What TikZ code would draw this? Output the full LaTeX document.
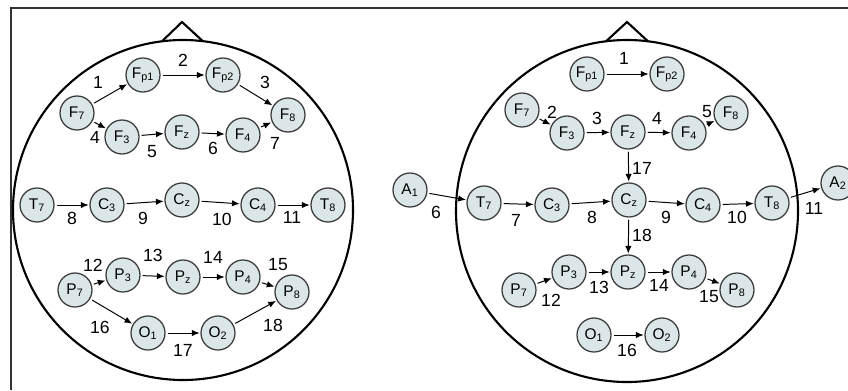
\documentclass[tikz,border=0pt]{standalone}
\usepackage{fontspec}
\setmainfont{Liberation Sans}
\usepackage{tikz}
\usetikzlibrary{arrows.meta}
\definecolor{elfill}{HTML}{DAE6E7}
\definecolor{eldraw}{HTML}{3C3C3C}
\tikzset{
  el/.style={circle,draw=eldraw,line width=0.9pt,fill=elfill,minimum size=0.85cm,inner sep=0pt,font=\fontsize{11}{12}\selectfont},
  arr/.style={-{Latex[length=5.5pt,width=4.5pt]},line width=0.7pt,shorten <=1.5pt,shorten >=0.5pt},
  lbl/.style={font=\fontsize{12.5}{13}\selectfont,inner sep=0pt},
  head/.style={line width=1.5pt}
}
\newcommand{\el}[2]{#1\textsubscript{#2}}
\begin{document}
\begin{tikzpicture}[x=0.025cm,y=-0.025cm]
  \useasboundingbox (0,0) rectangle (848,390);
  \draw[line width=0.8pt,black!80] (11,390) -- (11,8) -- (848,8);
  % left montage
  \draw[head] (183,210) circle[radius=170]; \draw[head] (162,41.3) -- (182,22) -- (203,41.3);
  \node[el] (LFpa) at (143,75) {\el{F}{p1}}; \node[el] (LFpb) at (223,75) {\el{F}{p2}};
  \node[el] (LF7) at (77,113) {\el{F}{7}}; \node[el] (LF3) at (122,137) {\el{F}{3}}; \node[el] (LFz) at (182,132) {\el{F}{z}};
  \node[el] (LF4) at (243,135) {\el{F}{4}}; \node[el] (LF8) at (288,115) {\el{F}{8}};
  \node[el] (LT7) at (37,205) {\el{T}{7}}; \node[el] (LC3) at (107,205) {\el{C}{3}}; \node[el] (LCz) at (182,200) {\el{C}{z}};
  \node[el] (LC4) at (258,205) {\el{C}{4}}; \node[el] (LT8) at (328,205) {\el{T}{8}};
  \node[el] (LP7) at (75,290) {\el{P}{7}}; \node[el] (LP3) at (123,275) {\el{P}{3}}; \node[el] (LPz) at (183,277) {\el{P}{z}};
  \node[el] (LP4) at (243,277) {\el{P}{4}}; \node[el] (LP8) at (292,292) {\el{P}{8}};
  \node[el] (LO1) at (148,333) {\el{O}{1}}; \node[el] (LO2) at (218,333) {\el{O}{2}};
  \foreach \a/\b in {LF7/LFpa,LFpa/LFpb,LFpb/LF8,LF7/LF3,LF3/LFz,LFz/LF4,LF4/LF8,LT7/LC3,LC3/LCz,LCz/LC4,LC4/LT8,
    LP7/LP3,LP3/LPz,LPz/LP4,LP4/LP8,LP7/LO1,LO1/LO2,LO2/LP8}
    \draw[arr] (\a) -- (\b);
  \foreach \n/\x/\y in {1/98/82,2/183/60,3/265/82,4/95/137,5/152/152,6/213/148,7/275/143,8/72/218,9/143/218,10/222/219,11/292/217,
    12/93/265,13/153/255,14/213/257,15/278/265,16/100/327,17/183/350,18/273/325}
    \node[lbl] at (\x,\y) {\n};
  % right montage
  \draw[head] (627,211) circle[radius=171]; \draw[head] (606,41.3) -- (627,22) -- (648,41.3);
  \node[el] (RFpa) at (587,74) {\el{F}{p1}}; \node[el] (RFpb) at (667,74) {\el{F}{p2}};
  \node[el] (RF7) at (522,110) {\el{F}{7}}; \node[el] (RF3) at (567,133) {\el{F}{3}}; \node[el] (RFz) at (628,132) {\el{F}{z}};
  \node[el] (RF4) at (689,133) {\el{F}{4}}; \node[el] (RF8) at (731,113) {\el{F}{8}};
  \node[el] (RA1) at (410,190) {\el{A}{1}}; \node[el] (RA2) at (838,183) {\el{A}{2}};
  \node[el] (RT7) at (484,203) {\el{T}{7}}; \node[el] (RC3) at (552,205) {\el{C}{3}}; \node[el] (RCz) at (629,200) {\el{C}{z}};
  \node[el] (RC4) at (703,205) {\el{C}{4}}; \node[el] (RT8) at (772,203) {\el{T}{8}};
  \node[el] (RP7) at (519,290) {\el{P}{7}}; \node[el] (RP3) at (569,272) {\el{P}{3}}; \node[el] (RPz) at (628,272) {\el{P}{z}};
  \node[el] (RP4) at (689,272) {\el{P}{4}}; \node[el] (RP8) at (737,290) {\el{P}{8}};
  \node[el] (RO1) at (594,335) {\el{O}{1}}; \node[el] (RO2) at (662,335) {\el{O}{2}};
  \foreach \a/\b in {RFpa/RFpb,RF7/RF3,RF3/RFz,RFz/RF4,RF4/RF8,RFz/RCz,RA1/RT7,RT7/RC3,RC3/RCz,RCz/RC4,RC4/RT8,RT8/RA2,
    RCz/RPz,RP7/RP3,RP3/RPz,RPz/RP4,RP4/RP8,RO1/RO2}
    \draw[arr] (\a) -- (\b);
  \foreach \n/\x/\y in {1/624/58,2/552/112,3/597/118,4/657/118,5/707/112,17/642/168,6/436/212,7/516/220,8/592/217,9/666/217,
    10/737/217,11/814/208,18/642/235,12/551/300,13/599/287,14/659/285,15/709/297,16/627/350}
    \node[lbl] at (\x,\y) {\n};
\end{tikzpicture}
\end{document}
